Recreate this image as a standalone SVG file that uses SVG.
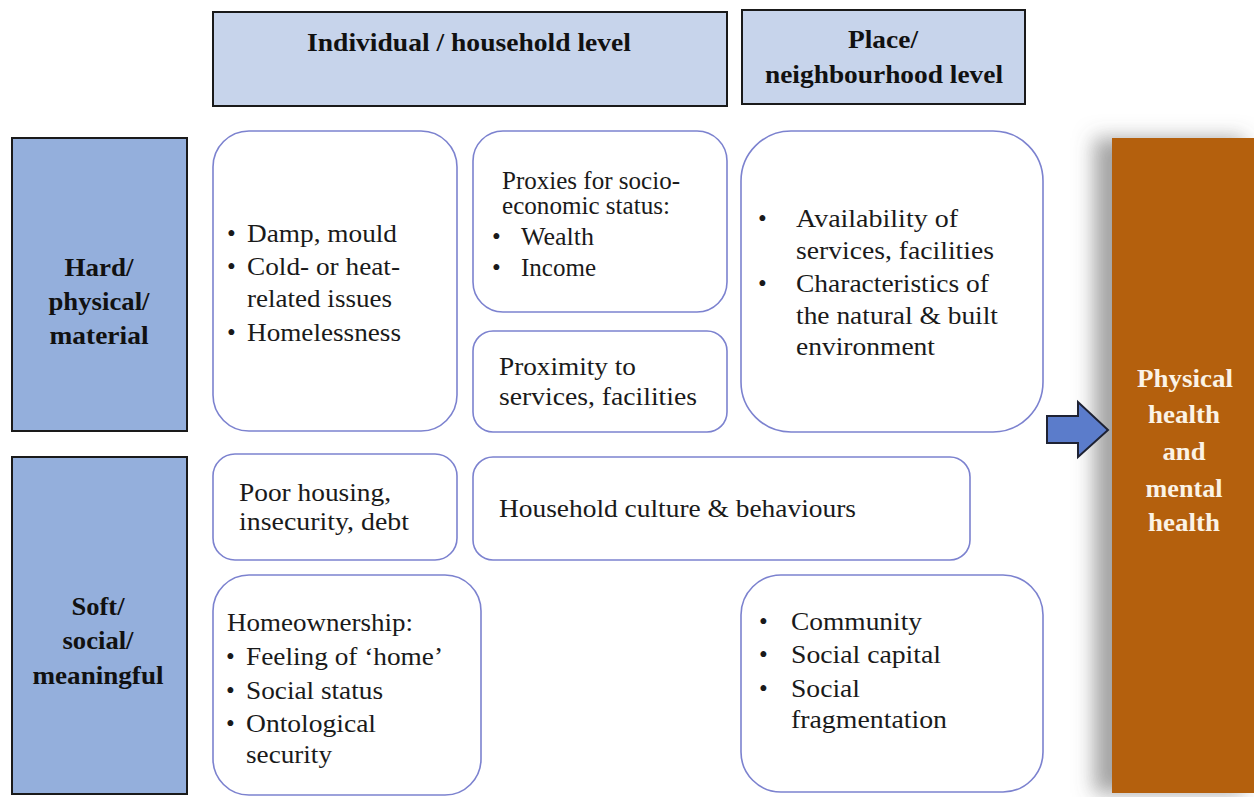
<svg xmlns="http://www.w3.org/2000/svg" width="1254" height="797" viewBox="0 0 1254 797">
<defs>
<style>
text{font-family:'Liberation Serif','Times New Roman','DejaVu Serif',serif}
.hdr{fill:#c7d4eb;stroke:#1a1a1a;stroke-width:2}
.side{fill:#94afdc;stroke:#1a1a1a;stroke-width:2}
.box{fill:#ffffff;stroke:#7c82cf;stroke-width:1.6}
.bt{font-weight:bold;font-size:25px;fill:#111;text-anchor:middle}
.t{font-size:25px;fill:#1a1a1a}
.wt{font-weight:bold;font-size:25px;fill:#fbf3e6;text-anchor:middle}
</style>
<filter id="sh" x="-60%" y="-10%" width="180%" height="120%">
<feGaussianBlur in="SourceAlpha" stdDeviation="10"/>
<feOffset dx="-18" dy="0" result="b"/>
<feFlood flood-color="#5a5a5a" flood-opacity="0.55"/>
<feComposite in2="b" operator="in"/>
<feMerge><feMergeNode/><feMergeNode in="SourceGraphic"/></feMerge>
</filter>
</defs>
<rect width="1254" height="797" fill="#ffffff"/>

<g id="hdr-individual">
<rect class="hdr" x="213" y="12" width="514" height="94"/>
<text class="bt" x="469" y="51" textLength="324" lengthAdjust="spacingAndGlyphs">Individual / household level</text>
</g>
<g id="hdr-place">
<rect class="hdr" x="742" y="10" width="283" height="94"/>
<text class="bt" x="883" y="48" textLength="70" lengthAdjust="spacingAndGlyphs">Place/</text>
<text class="bt" x="884" y="83" textLength="238" lengthAdjust="spacingAndGlyphs">neighbourhood level</text>
</g>

<g id="side-hard">
<rect class="side" x="12" y="138" width="175" height="293"/>
<text class="bt" x="99" y="276" textLength="69" lengthAdjust="spacingAndGlyphs">Hard/</text>
<text class="bt" x="99" y="310" textLength="101" lengthAdjust="spacingAndGlyphs">physical/</text>
<text class="bt" x="99" y="344" textLength="99" lengthAdjust="spacingAndGlyphs">material</text>
</g>
<g id="side-soft">
<rect class="side" x="12" y="457" width="175" height="337"/>
<text class="bt" x="98" y="615" textLength="53" lengthAdjust="spacingAndGlyphs">Soft/</text>
<text class="bt" x="98" y="649" textLength="71" lengthAdjust="spacingAndGlyphs">social/</text>
<text class="bt" x="98" y="684" textLength="131" lengthAdjust="spacingAndGlyphs">meaningful</text>
</g>

<g id="box-damp">
<rect class="box" x="213" y="131" width="244" height="300" rx="36"/>
<text class="t" x="227" y="242">•</text>
<text class="t" x="247" y="242" textLength="150" lengthAdjust="spacingAndGlyphs">Damp, mould</text>
<text class="t" x="227" y="275">•</text>
<text class="t" x="247" y="275" textLength="153" lengthAdjust="spacingAndGlyphs">Cold- or heat-</text>
<text class="t" x="247" y="307" textLength="145" lengthAdjust="spacingAndGlyphs">related issues</text>
<text class="t" x="227" y="341">•</text>
<text class="t" x="247" y="341" textLength="154" lengthAdjust="spacingAndGlyphs">Homelessness</text>
</g>

<g id="box-proxies">
<rect class="box" x="473" y="131" width="254" height="181" rx="30"/>
<text class="t" x="502" y="189" textLength="178" lengthAdjust="spacingAndGlyphs">Proxies for socio-</text>
<text class="t" x="502" y="214" textLength="168" lengthAdjust="spacingAndGlyphs">economic status:</text>
<text class="t" x="492" y="245">•</text>
<text class="t" x="521" y="245" textLength="73" lengthAdjust="spacingAndGlyphs">Wealth</text>
<text class="t" x="492" y="276">•</text>
<text class="t" x="521" y="276" textLength="75" lengthAdjust="spacingAndGlyphs">Income</text>
</g>

<g id="box-proximity">
<rect class="box" x="473" y="331" width="254" height="101" rx="20"/>
<text class="t" x="499" y="375" textLength="137" lengthAdjust="spacingAndGlyphs">Proximity to</text>
<text class="t" x="499" y="405" textLength="198" lengthAdjust="spacingAndGlyphs">services, facilities</text>
</g>

<g id="box-availability">
<rect class="box" x="741" y="131" width="302" height="301" rx="50"/>
<text class="t" x="758" y="227">•</text>
<text class="t" x="796" y="227" textLength="162" lengthAdjust="spacingAndGlyphs">Availability of</text>
<text class="t" x="796" y="259" textLength="198" lengthAdjust="spacingAndGlyphs">services, facilities</text>
<text class="t" x="758" y="292">•</text>
<text class="t" x="796" y="292" textLength="193" lengthAdjust="spacingAndGlyphs">Characteristics of</text>
<text class="t" x="796" y="324" textLength="202" lengthAdjust="spacingAndGlyphs">the natural &amp; built</text>
<text class="t" x="796" y="355" textLength="139" lengthAdjust="spacingAndGlyphs">environment</text>
</g>

<g id="box-poorhousing">
<rect class="box" x="213" y="454" width="244" height="106" rx="22"/>
<text class="t" x="239" y="501" textLength="152" lengthAdjust="spacingAndGlyphs">Poor housing,</text>
<text class="t" x="239" y="530" textLength="170" lengthAdjust="spacingAndGlyphs">insecurity, debt</text>
</g>

<g id="box-culture">
<rect class="box" x="473" y="457" width="497" height="103" rx="20"/>
<text class="t" x="499" y="517" textLength="357" lengthAdjust="spacingAndGlyphs">Household culture &amp; behaviours</text>
</g>

<g id="box-homeownership">
<rect class="box" x="213" y="575" width="268" height="220" rx="36"/>
<text class="t" x="227" y="631" textLength="186" lengthAdjust="spacingAndGlyphs">Homeownership:</text>
<text class="t" x="226" y="665">•</text>
<text class="t" x="246" y="665" textLength="197" lengthAdjust="spacingAndGlyphs">Feeling of ‘home’</text>
<text class="t" x="226" y="699">•</text>
<text class="t" x="246" y="699" textLength="137" lengthAdjust="spacingAndGlyphs">Social status</text>
<text class="t" x="226" y="732">•</text>
<text class="t" x="246" y="732" textLength="130" lengthAdjust="spacingAndGlyphs">Ontological</text>
<text class="t" x="246" y="763" textLength="86" lengthAdjust="spacingAndGlyphs">security</text>
</g>

<g id="box-community">
<rect class="box" x="741" y="575" width="302" height="217" rx="40"/>
<text class="t" x="759" y="630">•</text>
<text class="t" x="791" y="630" textLength="131" lengthAdjust="spacingAndGlyphs">Community</text>
<text class="t" x="759" y="663">•</text>
<text class="t" x="791" y="663" textLength="150" lengthAdjust="spacingAndGlyphs">Social capital</text>
<text class="t" x="759" y="697">•</text>
<text class="t" x="791" y="697" textLength="69" lengthAdjust="spacingAndGlyphs">Social</text>
<text class="t" x="791" y="728" textLength="156" lengthAdjust="spacingAndGlyphs">fragmentation</text>
</g>

<g id="outcome">
<rect x="1112" y="138" width="150" height="655" fill="#b4600f" filter="url(#sh)"/>
<text class="wt" x="1185" y="387" textLength="96" lengthAdjust="spacingAndGlyphs">Physical</text>
<text class="wt" x="1184" y="423" textLength="72" lengthAdjust="spacingAndGlyphs">health</text>
<text class="wt" x="1184" y="460" textLength="43" lengthAdjust="spacingAndGlyphs">and</text>
<text class="wt" x="1184" y="497" textLength="77" lengthAdjust="spacingAndGlyphs">mental</text>
<text class="wt" x="1184" y="531" textLength="72" lengthAdjust="spacingAndGlyphs">health</text>
</g>

<g id="connectors">
<path d="M1047,416 L1078,416 L1078,402 L1108,430 L1078,457 L1078,443 L1047,443 Z" fill="#5b7ccb" stroke="#1e2233" stroke-width="2" stroke-linejoin="miter"/>
</g>
</svg>
